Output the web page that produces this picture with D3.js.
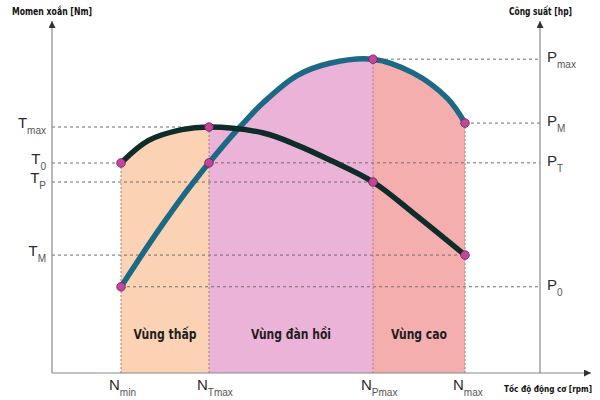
<!DOCTYPE html>
<html>
<head>
<meta charset="utf-8">
<script src="https://cdn.jsdelivr.net/npm/d3@7"></script>
<style>
  body { margin: 0; background: #fff; }
  svg { display: block; }
</style>
</head>
<body>
<div id="chart"></div>
<script>
// engine speed marks (rpm) and their names
const rpmMarks = [1000, 2100, 4150, 5300];
const rpmNames = [["N", "min"], ["N", "Tmax"], ["N", "Pmax"], ["N", "max"]];

// torque curve [Nm]
const torqueRpm = [1000, 1340, 1760, 2100, 2780, 3200, 3610, 4150, 4650, 5300];
const torqueNm  = [238.6, 264, 276.5, 279.5, 272.7, 259, 242, 217, 182, 134];

// power curve [hp]
const powerRpm = [1000, 1340, 1550, 1760, 1960, 2100, 2390, 2580, 2780, 3200, 3610, 4150, 4650, 5080, 5300];
const powerHp  = [49, 72.5, 86.4, 99.7, 111.5, 119.4, 135, 144.4, 153.7, 169, 176, 178.3, 170.5, 156, 142];

// named levels on each axis, with the rpm where they are taken
const torqueTicks = [
  { name: "T", sub: "max", value: 279.5, rpm: 2100 },
  { name: "T", sub: "0",   value: 238.6, rpm: 1000 },
  { name: "T", sub: "P",   value: 217,   rpm: 4150 },
  { name: "T", sub: "M",   value: 134,   rpm: 5300 }
];
const powerTicks = [
  { name: "P", sub: "max", value: 178.3, rpm: 4150 },
  { name: "P", sub: "M",   value: 142,   rpm: 5300 },
  { name: "P", sub: "T",   value: 119.4, rpm: 2100 },
  { name: "P", sub: "0",   value: 49,    rpm: 1000 }
];

const zoneNames  = ["Vùng thấp", "Vùng đàn hồi", "Vùng cao"];
const zoneColors = ["#fcd2b4", "#ebb3d7", "#f5aeae"];

const width = 600, height = 400;
const axisLeft = 52, axisRight = 540, axisBottom = 373, axisTop = 21;

const svg = d3.select("#chart").append("svg")
    .attr("width", width)
    .attr("height", height);

const x = d3.scaleLinear().domain([0, 6900]).range([41, 593]);
const yT = d3.scaleLinear().domain([0, 400]).range([axisBottom, axisTop]);
const yP = d3.scaleLinear().domain([0, 200]).range([axisBottom, axisTop]);

const torqueData = torqueRpm.map((r, i) => ({ rpm: r, v: torqueNm[i] }));
const powerData = powerRpm.map((r, i) => ({ rpm: r, v: powerHp[i] }));

const curve = d3.curveCatmullRom.alpha(0.5);
const torqueArea = d3.area().curve(curve).x(d => x(d.rpm)).y0(axisBottom).y1(d => yT(d.v));
const powerArea = d3.area().curve(curve).x(d => x(d.rpm)).y0(axisBottom).y1(d => yP(d.v));
const torqueLine = d3.line().curve(curve).x(d => x(d.rpm)).y(d => yT(d.v));
const powerLine = d3.line().curve(curve).x(d => x(d.rpm)).y(d => yP(d.v));

// zones: fill under the upper of the two curves
const defs = svg.append("defs");
zoneNames.forEach((z, i) => {
  defs.append("clipPath").attr("id", "zone" + i)
    .append("rect")
    .attr("x", x(rpmMarks[i]))
    .attr("y", 0)
    .attr("width", x(rpmMarks[i + 1]) - x(rpmMarks[i]))
    .attr("height", axisBottom);
  const g = svg.append("g").attr("clip-path", `url(#zone${i})`);
  g.append("path").datum(torqueData).attr("d", torqueArea).attr("fill", zoneColors[i]);
  g.append("path").datum(powerData).attr("d", powerArea).attr("fill", zoneColors[i]);
});

// dashed guide lines
const guides = svg.append("g").attr("fill", "none");
torqueTicks.forEach(t => {
  guides.append("line")
    .attr("x1", axisLeft).attr("x2", x(t.rpm))
    .attr("y1", yT(t.value)).attr("y2", yT(t.value))
    .attr("stroke", "#6f6f6f").attr("stroke-width", 1).attr("stroke-dasharray", "3,3");
});
powerTicks.forEach(t => {
  guides.append("line")
    .attr("x1", x(t.rpm)).attr("x2", axisRight)
    .attr("y1", yP(t.value)).attr("y2", yP(t.value))
    .attr("stroke", "#6f6f6f").attr("stroke-width", 1).attr("stroke-dasharray", "3,3");
});
rpmMarks.forEach(r => {
  const tv = torqueData.find(d => d.rpm === r).v;
  const pv = powerData.find(d => d.rpm === r).v;
  guides.append("line")
    .attr("x1", x(r)).attr("x2", x(r))
    .attr("y1", Math.min(yT(tv), yP(pv))).attr("y2", axisBottom)
    .attr("stroke", "#9b7d86").attr("stroke-width", 1).attr("stroke-dasharray", "2,2");
});

// axes
defs.append("marker").attr("id", "arrow")
  .attr("viewBox", "0 0 10 10").attr("refX", 10).attr("refY", 5)
  .attr("markerWidth", 7).attr("markerHeight", 7).attr("markerUnits", "userSpaceOnUse")
  .attr("orient", "auto")
  .append("path").attr("d", "M0,0L10,5L0,10Z").attr("fill", "#333");

const axes = svg.append("g").attr("stroke", "#888").attr("stroke-width", 1.2);
axes.append("line").attr("x1", axisLeft).attr("x2", axisLeft)
  .attr("y1", axisBottom).attr("y2", axisTop).attr("marker-end", "url(#arrow)");
axes.append("line").attr("x1", axisRight).attr("x2", axisRight)
  .attr("y1", axisBottom).attr("y2", axisTop).attr("marker-end", "url(#arrow)");
axes.append("line").attr("x1", axisLeft).attr("x2", 591)
  .attr("y1", axisBottom).attr("y2", axisBottom).attr("marker-end", "url(#arrow)");

// curves
svg.append("path").datum(powerData).attr("d", powerLine)
  .attr("fill", "none").attr("stroke", "#1c6985").attr("stroke-width", 5.5);
svg.append("path").datum(torqueData).attr("d", torqueLine)
  .attr("fill", "none").attr("stroke", "#0e2c29").attr("stroke-width", 5.5);

// marked points
const pts = [];
torqueTicks.forEach(t => pts.push([x(t.rpm), yT(t.value)]));
powerTicks.forEach(t => pts.push([x(t.rpm), yP(t.value)]));
svg.append("g").selectAll("circle").data(pts).join("circle")
  .attr("cx", d => d[0]).attr("cy", d => d[1]).attr("r", 4.3)
  .attr("fill", "#c4469c").attr("stroke", "#6e1f55").attr("stroke-width", 0.8);

// labels with subscripts
const labelFont = "'Liberation Sans', Arial, sans-serif";
function subLabel(g, name, sub, px, py, anchor) {
  const t = g.append("text")
    .attr("x", px).attr("y", py)
    .attr("text-anchor", anchor)
    .attr("font-family", labelFont)
    .attr("fill", "#2b2b2b");
  t.append("tspan").attr("font-size", 15).text(name);
  t.append("tspan").attr("font-size", 10).attr("dy", 6).attr("fill", "#555").text(sub);
}

const labels = svg.append("g");
torqueTicks.forEach(t => subLabel(labels, t.name, t.sub, 46, yT(t.value) + 1, "end"));
powerTicks.forEach(t => subLabel(labels, t.name, t.sub, 547, yP(t.value) + 3, "start"));
rpmMarks.forEach((r, i) => subLabel(labels, rpmNames[i][0], rpmNames[i][1], x(r) - 12, 390, "start"));

// zone names
const condensed = "'DejaVu Sans Condensed', 'Liberation Sans Narrow', sans-serif";
const zoneWidths = [63, 80, 56];
zoneNames.forEach((z, i) => {
  svg.append("text")
    .attr("x", (x(rpmMarks[i]) + x(rpmMarks[i + 1])) / 2)
    .attr("y", 339)
    .attr("text-anchor", "middle")
    .attr("font-family", condensed)
    .attr("font-stretch", "condensed")
    .attr("font-weight", "bold")
    .attr("font-size", 14.5)
    .attr("textLength", zoneWidths[i])
    .attr("lengthAdjust", "spacingAndGlyphs")
    .attr("fill", "#1e1e1e")
    .text(z);
});

// axis titles
const titles = [
  { text: "Momen xoắn [Nm]", x: 12, y: 15, w: 80, fs: 10.5, anchor: "start" },
  { text: "Công suất [hp]", x: 509, y: 15, w: 63, fs: 10.5, anchor: "start" },
  { text: "Tốc độ động cơ [rpm]", x: 592, y: 392, w: 88, fs: 9, anchor: "end" }
];
titles.forEach(t => {
  svg.append("text")
    .attr("x", t.x).attr("y", t.y)
    .attr("text-anchor", t.anchor)
    .attr("font-family", condensed)
    .attr("font-stretch", "condensed")
    .attr("font-weight", "bold")
    .attr("font-size", t.fs)
    .attr("textLength", t.w)
    .attr("lengthAdjust", "spacingAndGlyphs")
    .attr("fill", "#111")
    .text(t.text);
});
</script>
</body>
</html>
